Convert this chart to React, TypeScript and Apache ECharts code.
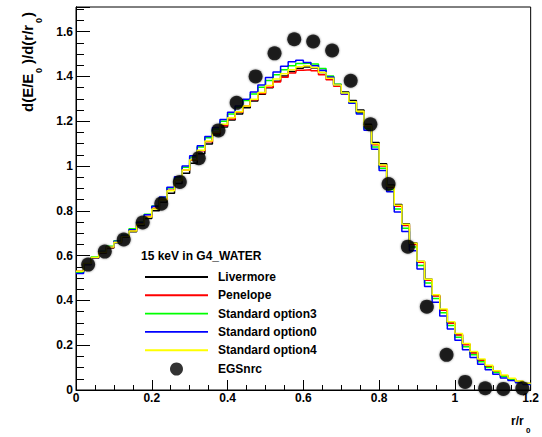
import React, { useEffect, useRef } from 'react';
import * as echarts from 'echarts';

const BIN_WIDTH = 0.02;

const livermore = [
  0.528, 0.56, 0.588, 0.612, 0.634, 0.657, 0.682, 0.706, 0.735, 0.766,
  0.8, 0.838, 0.878, 0.922, 0.968, 1.012, 1.055, 1.098, 1.138, 1.174,
  1.205, 1.232, 1.26, 1.29, 1.32, 1.35, 1.378, 1.402, 1.422, 1.436,
  1.442, 1.438, 1.418, 1.394, 1.364, 1.33, 1.292, 1.25, 1.186, 1.105,
  1.01, 0.915, 0.828, 0.742, 0.656, 0.574, 0.494, 0.422, 0.358, 0.3,
  0.248, 0.204, 0.167, 0.134, 0.106, 0.083, 0.064, 0.05, 0.038, 0.029,
];
const penelope = [
  0.53, 0.562, 0.59, 0.614, 0.636, 0.66, 0.686, 0.712, 0.742, 0.775,
  0.812, 0.85, 0.892, 0.936, 0.982, 1.026, 1.068, 1.108, 1.146, 1.18,
  1.21, 1.24, 1.268, 1.296, 1.324, 1.352, 1.375, 1.396, 1.415, 1.428,
  1.43, 1.425, 1.408, 1.385, 1.356, 1.322, 1.284, 1.24, 1.175, 1.095,
  1.0, 0.905, 0.82, 0.735, 0.65, 0.57, 0.49, 0.42, 0.356, 0.298,
  0.246, 0.202, 0.165, 0.132, 0.105, 0.082, 0.063, 0.049, 0.037, 0.028,
];
const option3 = [
  0.525, 0.562, 0.594, 0.62, 0.642, 0.666, 0.692, 0.72, 0.75, 0.785,
  0.822, 0.86, 0.902, 0.948, 0.995, 1.04, 1.085, 1.126, 1.165, 1.2,
  1.232, 1.262, 1.292, 1.322, 1.352, 1.382, 1.408, 1.43, 1.448, 1.458,
  1.46, 1.455, 1.435, 1.402, 1.365, 1.325, 1.283, 1.236, 1.168, 1.085,
  0.99, 0.895, 0.808, 0.722, 0.638, 0.556, 0.478, 0.408, 0.345, 0.288,
  0.236, 0.193, 0.157, 0.126, 0.1, 0.078, 0.06, 0.046, 0.035, 0.026,
];
const option0 = [
  0.52, 0.56, 0.59, 0.618, 0.64, 0.664, 0.69, 0.716, 0.748, 0.782,
  0.82, 0.862, 0.905, 0.952, 1.0, 1.046, 1.09, 1.132, 1.172, 1.208,
  1.24, 1.268, 1.298, 1.33, 1.362, 1.395, 1.42, 1.445, 1.465, 1.472,
  1.462, 1.448, 1.428, 1.398, 1.362, 1.322, 1.28, 1.232, 1.16, 1.075,
  0.98, 0.885, 0.795, 0.708, 0.622, 0.54, 0.462, 0.392, 0.33, 0.272,
  0.222, 0.18, 0.145, 0.115, 0.09, 0.07, 0.054, 0.042, 0.032, 0.024,
];
const option4 = [
  0.53, 0.565, 0.592, 0.615, 0.638, 0.66, 0.685, 0.71, 0.74, 0.772,
  0.808, 0.848, 0.89, 0.935, 0.982, 1.028, 1.07, 1.112, 1.152, 1.186,
  1.215, 1.242, 1.268, 1.298, 1.328, 1.36, 1.388, 1.412, 1.43, 1.443,
  1.448, 1.44, 1.418, 1.392, 1.362, 1.326, 1.287, 1.245, 1.18, 1.1,
  1.005, 0.91, 0.825, 0.74, 0.655, 0.575, 0.495, 0.425, 0.362, 0.305,
  0.252, 0.208, 0.172, 0.138, 0.11, 0.086, 0.067, 0.052, 0.04, 0.03,
];

const egsX = [
  0.032, 0.076, 0.126, 0.176, 0.225, 0.274, 0.324, 0.376, 0.424, 0.474,
  0.524, 0.576, 0.626, 0.676, 0.725, 0.777, 0.825, 0.876, 0.926, 0.978,
  1.027, 1.08, 1.128, 1.178,
];
const egsY = [
  0.56, 0.618, 0.672, 0.748, 0.832, 0.929, 1.035, 1.159, 1.282, 1.4,
  1.503, 1.566, 1.556, 1.516, 1.381, 1.186, 0.92, 0.64, 0.372, 0.157,
  0.036, 0.008, 0.005, 0.008,
];

const seriesNames = ['Livermore', 'Penelope', 'Standard option3', 'Standard option0', 'Standard option4'];
const seriesColors = ['#000000', '#ff0000', '#00ff00', '#0000ff', '#ffff00'];
const seriesValues = [livermore, penelope, option3, option0, option4];
const pointsName = 'EGSnrc';

const X_MIN = 0;
const X_MAX = 1.2;
const Y_MIN = 0;
const Y_MAX = 1.71;

const FONT = "'Liberation Sans', Arial, Helvetica, sans-serif";

function histData(values: number[]) {
  const pts: number[][] = values.map((v, i) => [+(i * BIN_WIDTH).toFixed(4), v]);
  pts.push([+(values.length * BIN_WIDTH).toFixed(4), values[values.length - 1]]);
  return pts;
}

function isMultiple(v: number, step: number) {
  const r = v / step;
  return Math.abs(r - Math.round(r)) < 1e-6;
}

export default function App() {
  const ref = useRef<HTMLDivElement>(null);

  useEffect(() => {
    if (!ref.current) return;
    const chart = echarts.init(ref.current, null, { renderer: 'svg' });

    const lineSeries = seriesValues.map((vals, i) => ({
      name: seriesNames[i],
      type: 'line',
      step: 'end',
      data: histData(vals),
      showSymbol: false,
      symbol: 'none',
      xAxisIndex: 0,
      yAxisIndex: 0,
      lineStyle: { color: seriesColors[i], width: 1.5 },
      itemStyle: { color: seriesColors[i] },
      clip: true,
      z: 2 + i,
    }));

    const option: any = {
      animation: false,
      backgroundColor: '#ffffff',
      textStyle: { fontFamily: FONT },
      grid: {
        left: 76,
        right: 9,
        top: 7,
        bottom: 47,
        show: true,
        borderColor: '#000',
        borderWidth: 1,
        backgroundColor: 'transparent',
      },
      legend: {
        orient: 'vertical',
        left: 145,
        top: 271,
        padding: 0,
        itemWidth: 63,
        itemHeight: 13,
        itemGap: 6.3,
        selectedMode: false,
        symbolKeepAspect: true,
        textStyle: {
          fontFamily: FONT,
          fontSize: 12,
          fontWeight: 'bold',
          color: '#000',
          padding: [0, 0, 0, 5],
        },
        data: [
          ...seriesNames.map((n) => ({ name: n, icon: 'path://M0 0H100V3H0Z' })),
          { name: pointsName, icon: 'circle' },
        ],
      },
      xAxis: {
        type: 'value',
        min: X_MIN,
        max: X_MAX,
        interval: 0.2,
        axisLine: { show: true, lineStyle: { color: '#000', width: 1 } },
        axisTick: { show: true, inside: true, length: 10, lineStyle: { color: '#000', width: 1 } },
        minorTick: { show: true, splitNumber: 4, length: 5, lineStyle: { color: '#000', width: 1 } },
        axisLabel: {
          margin: 2,
          fontFamily: FONT,
          fontSize: 12,
          fontWeight: 'bold',
          color: '#000',
          formatter: (v: number) => (isMultiple(v, 0.2) ? String(+v.toFixed(1)) : ''),
        },
        splitLine: { show: false },
        minorSplitLine: { show: false },
      },
      yAxis: [
        {
          type: 'value',
          min: Y_MIN,
          max: Y_MAX,
          interval: 0.05,
          position: 'left',
          axisLine: { show: true, lineStyle: { color: '#000', width: 1 } },
          axisTick: { show: true, inside: true, length: 8, lineStyle: { color: '#000', width: 1 } },
          axisLabel: {
            margin: 3,
            fontFamily: FONT,
            fontSize: 12,
            fontWeight: 'bold',
            color: '#000',
            formatter: (v: number) => (isMultiple(v, 0.2) ? String(+v.toFixed(1)) : ''),
          },
          splitLine: { show: false },
        },
        {
          type: 'value',
          min: Y_MIN,
          max: Y_MAX,
          interval: 0.2,
          position: 'left',
          offset: 0,
          axisLine: { show: true, lineStyle: { color: '#000', width: 1 } },
          axisTick: { show: true, inside: true, length: 14, lineStyle: { color: '#000', width: 1 } },
          axisLabel: { show: false },
          splitLine: { show: false },
        },
      ],
      series: [
        ...lineSeries,
        {
          name: pointsName,
          type: 'scatter',
          data: egsX.map((x, i) => [x, egsY[i]]),
          symbol: 'circle',
          symbolSize: 14,
          itemStyle: { color: '#000', shadowBlur: 2, shadowColor: 'rgba(0,0,0,0.6)' },
          xAxisIndex: 0,
          yAxisIndex: 0,
          clip: false,
          z: 10,
        },
      ],
      graphic: [
        {
          type: 'group',
          x: 27,
          y: 112,
          rotation: Math.PI / 2,
          children: [
            { type: 'text', x: 0, y: 0, style: { text: 'd(E/E', font: `bold 15px ${FONT}`, fill: '#000', align: 'left', verticalAlign: 'middle' } },
            { type: 'text', x: 39, y: 12, style: { text: '0', font: `bold 9px ${FONT}`, fill: '#000', align: 'left', verticalAlign: 'middle' } },
            { type: 'text', x: 48, y: 0, style: { text: ')/d(r/r', font: `bold 15px ${FONT}`, fill: '#000', align: 'left', verticalAlign: 'middle' } },
            { type: 'text', x: 89, y: 12, style: { text: '0', font: `bold 9px ${FONT}`, fill: '#000', align: 'left', verticalAlign: 'middle' } },
            { type: 'text', x: 95, y: 0, style: { text: ')', font: `bold 15px ${FONT}`, fill: '#000', align: 'left', verticalAlign: 'middle' } },
          ],
        },
        {
          type: 'text',
          x: 511,
          y: 421,
          style: { text: 'r/r', font: `bold 12px ${FONT}`, fill: '#000', align: 'left', verticalAlign: 'middle' },
        },
        {
          type: 'text',
          x: 526,
          y: 430,
          style: { text: '0', font: `bold 8px ${FONT}`, fill: '#000', align: 'left', verticalAlign: 'middle' },
        },
        {
          type: 'text',
          x: 141,
          y: 256,
          style: { text: '15 keV in G4_WATER', font: `bold 12px ${FONT}`, fill: '#000', align: 'left', verticalAlign: 'middle' },
        },
      ],
    };

    chart.setOption(option);
    return () => {
      chart.dispose();
    };
  }, []);

  return (
    <div
      ref={ref}
      style={{ position: 'fixed', left: 0, top: 0, width: 542, height: 437, background: '#fff' }}
    />
  );
}
